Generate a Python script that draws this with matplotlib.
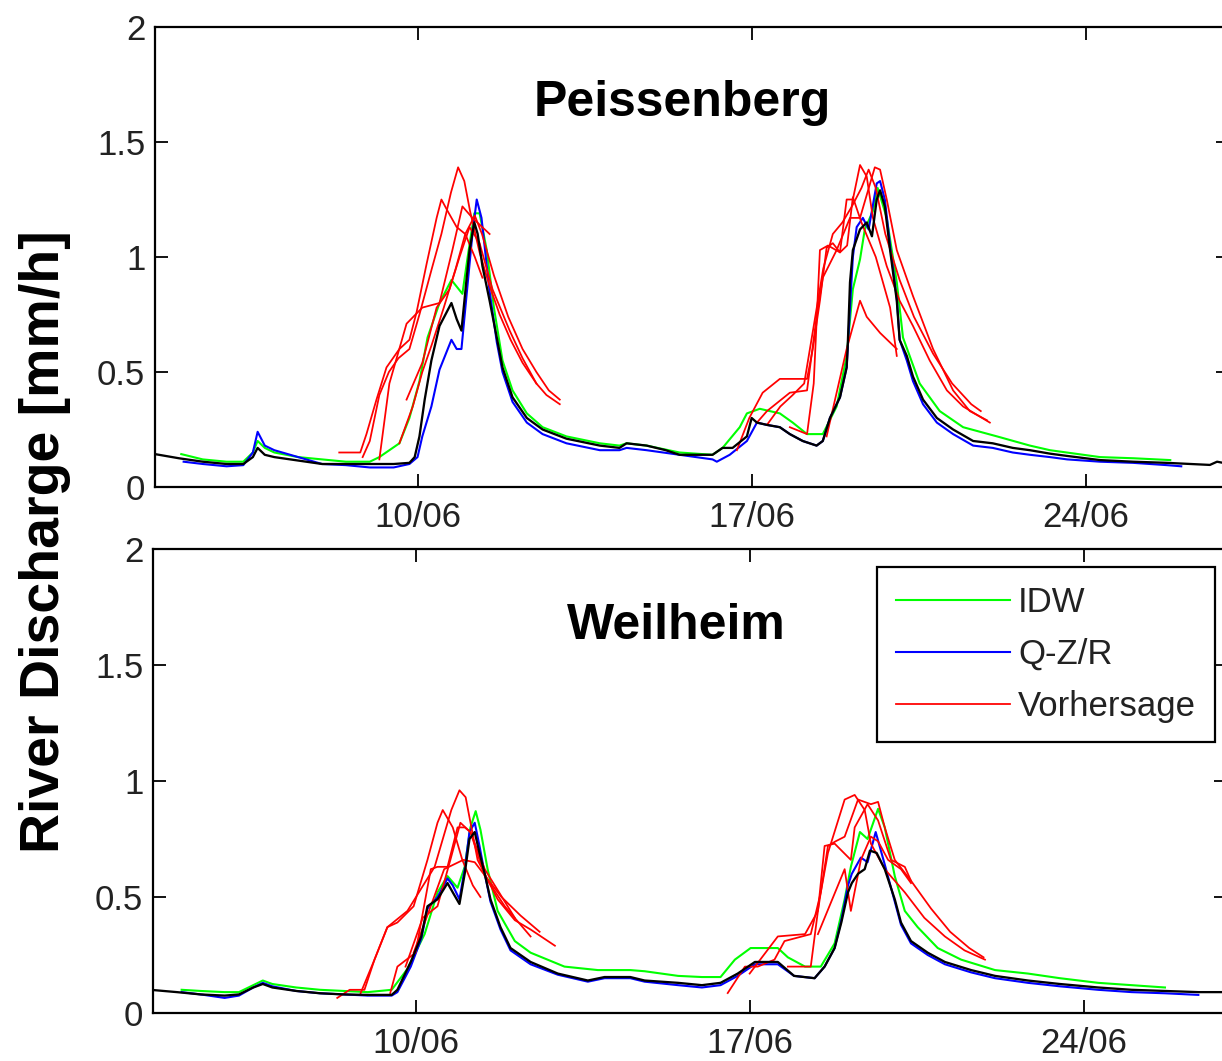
import matplotlib
matplotlib.use("Agg")
import matplotlib.pyplot as plt
import numpy as np

# ---------------- DATA (day of June, discharge mm/h) ----------------
xtick_days = [10, 17, 24]
xtick_labels = ["10/06", "17/06", "24/06"]
ytick_vals = [0, 0.5, 1, 1.5, 2]
ytick_labels = ["0", "0.5", "1", "1.5", "2"]
panel_titles = ["Peissenberg", "Weilheim"]
legend_labels = ["IDW", "Q-Z/R", "Vorhersage"]

# ---- Peissenberg (top) ----
top_obs_d = [4.5, 5.0, 5.5, 6.0, 6.35, 6.55, 6.65, 6.8, 7.0, 7.5, 8.0, 8.5, 9.0, 9.5, 9.83, 9.94, 10.04, 10.15, 10.29,
             10.46, 10.71, 10.82, 10.92, 11.03, 11.09, 11.19, 11.26, 11.36, 11.51, 11.66, 11.78, 11.99, 12.29, 12.62,
             13.12, 13.82, 14.23, 14.38, 14.80, 15.2, 15.49, 16.18, 16.39, 16.60, 16.90, 17.00, 17.11, 17.32, 17.59,
             17.80, 18.07, 18.36, 18.49, 18.64, 18.85, 18.99, 19.01, 19.06, 19.12, 19.27, 19.41, 19.52, 19.62, 19.69,
             19.79, 19.90, 20.04, 20.10, 20.25, 20.38, 20.59, 20.88, 21.22, 21.64, 22.05, 22.47, 22.83, 23.25, 23.61,
             24.30, 24.99, 25.70, 26.60, 26.75, 27.0]
top_obs_v = [0.143, 0.125, 0.11, 0.10, 0.10, 0.13, 0.17, 0.14, 0.13, 0.115, 0.10, 0.10, 0.10, 0.10, 0.105, 0.13, 0.22,
             0.38, 0.55, 0.70, 0.80, 0.73, 0.68, 0.91, 1.03, 1.15, 1.10, 0.96, 0.81, 0.65, 0.52, 0.39, 0.30, 0.25,
             0.21, 0.18, 0.17, 0.19, 0.18, 0.16, 0.14, 0.14, 0.17, 0.17, 0.22, 0.30, 0.28, 0.27, 0.26,
             0.23, 0.20, 0.18, 0.20, 0.30, 0.39, 0.52, 0.60, 0.89, 1.03, 1.12, 1.15, 1.09, 1.25, 1.29,
             1.22, 1.03, 0.81, 0.64, 0.57, 0.48, 0.38, 0.30, 0.25, 0.20, 0.19, 0.17, 0.16, 0.145, 0.135,
             0.117, 0.11, 0.105, 0.096, 0.11, 0.10]

top_qzr_d = [5.1, 5.5, 6.0, 6.35, 6.55, 6.65, 6.8, 7.0, 7.5, 8.0, 8.5, 9.0, 9.5, 9.83, 10.0, 10.10, 10.29, 10.46,
             10.71, 10.82, 10.92, 11.03, 11.15, 11.24, 11.34, 11.51, 11.66, 11.78, 11.99, 12.29, 12.62, 13.12, 13.82,
             14.23, 14.38, 14.80, 15.49, 16.18, 16.27, 16.54, 16.90, 17.11, 17.32, 17.59, 17.80, 18.07, 18.36, 18.49,
             18.64, 18.85, 18.99, 19.12, 19.20, 19.33, 19.45, 19.62, 19.69, 19.79, 19.90, 20.04, 20.10, 20.25, 20.38,
             20.59, 20.88, 21.22, 21.64, 22.05, 22.47, 22.83, 23.25, 23.61, 24.30, 24.99, 25.70, 26.0]
top_qzr_v = [0.11, 0.10, 0.09, 0.095, 0.15, 0.24, 0.18, 0.16, 0.13, 0.10, 0.095, 0.085, 0.085, 0.10, 0.13, 0.22, 0.35,
             0.51, 0.64, 0.60, 0.60, 0.84, 1.10, 1.25, 1.17, 0.85, 0.63, 0.50, 0.37, 0.28, 0.23, 0.19, 0.16,
             0.16, 0.17, 0.16, 0.14, 0.12, 0.11, 0.14, 0.20, 0.28, 0.27, 0.26, 0.23, 0.20, 0.18, 0.20,
             0.30, 0.39, 0.52, 1.00, 1.13, 1.17, 1.12, 1.32, 1.33, 1.25, 1.05, 0.82, 0.64, 0.55, 0.46,
             0.36, 0.28, 0.23, 0.18, 0.17, 0.15, 0.14, 0.13, 0.12, 0.11, 0.105, 0.095, 0.09]

top_idw_d = [5.05, 5.5, 6.0, 6.35, 6.55, 6.65, 6.8, 7.0, 7.5, 8.0, 8.5, 9.0, 9.2, 9.62, 9.83, 10.04, 10.21, 10.46,
             10.71, 10.94, 11.05, 11.19, 11.30, 11.45, 11.6, 11.78, 11.99, 12.29, 12.62, 13.12, 13.82, 14.23, 14.38,
             14.80, 15.49, 16.18, 16.39, 16.75, 16.90, 17.17, 17.59, 17.86, 18.16, 18.49, 18.78, 18.99, 19.12, 19.27,
             19.37, 19.54, 19.64, 19.83, 20.04, 20.17, 20.52, 20.94, 21.43, 22.14, 22.83, 23.25, 24.30, 25.0, 25.77]
top_idw_v = [0.143, 0.12, 0.11, 0.11, 0.15, 0.20, 0.17, 0.15, 0.13, 0.12, 0.11, 0.11, 0.13, 0.19, 0.30, 0.46, 0.65, 0.80,
             0.90, 0.84, 1.00, 1.19, 1.19, 1.03, 0.78, 0.55, 0.42, 0.32, 0.26, 0.22, 0.19, 0.18, 0.19,
             0.18, 0.15, 0.14, 0.17, 0.26, 0.32, 0.34, 0.32, 0.28, 0.23, 0.23, 0.35, 0.57, 0.86, 0.99,
             1.12, 1.20, 1.30, 1.17, 0.89, 0.65, 0.45, 0.33, 0.26, 0.22, 0.18, 0.16, 0.13, 0.125, 0.117]

top_fc_1 = [[8.36, 0.15], [8.80, 0.15], [8.93, 0.23], [9.14, 0.38], [9.35, 0.52], [9.62, 0.60], [9.83, 0.64],
            [9.98, 0.76], [10.19, 0.97], [10.40, 1.17], [10.50, 1.25], [10.63, 1.20], [10.82, 1.13], [11.0, 1.10],
            [11.2, 1.00], [11.36, 0.91]]
top_fc_2 = [[8.85, 0.13], [9.0, 0.20], [9.2, 0.40], [9.4, 0.50], [9.6, 0.56], [9.83, 0.60], [10.04, 0.75],
            [10.3, 0.95], [10.5, 1.10], [10.7, 1.28], [10.85, 1.39], [10.98, 1.33], [11.1, 1.20], [11.3, 1.02],
            [11.5, 0.88], [11.72, 0.75], [11.95, 0.64], [12.2, 0.54], [12.49, 0.45], [12.7, 0.40], [12.98, 0.36]]
top_fc_3 = [[9.20, 0.12], [9.41, 0.45], [9.77, 0.71], [10.10, 0.78], [10.46, 0.80], [10.73, 1.03], [10.94, 1.22],
            [11.15, 1.17], [11.51, 1.10]]
top_fc_4 = [[9.77, 0.38], [10.10, 0.54], [10.40, 0.78], [10.67, 0.86], [10.88, 1.00], [11.09, 1.13], [11.30, 1.06],
            [11.57, 0.86], [11.93, 0.68], [12.2, 0.56], [12.49, 0.45]]
top_fc_5 = [[9.62, 0.19], [9.9, 0.35], [10.1, 0.50], [10.3, 0.62], [10.55, 0.78], [10.8, 0.95], [11.0, 1.10],
            [11.2, 1.18], [11.35, 1.10], [11.6, 0.92], [11.9, 0.74], [12.2, 0.60], [12.49, 0.50], [12.75, 0.42],
            [12.98, 0.38]]
top_fc_6 = [[16.69, 0.16], [16.95, 0.30], [17.23, 0.41], [17.59, 0.47], [18.16, 0.47], [18.28, 0.60], [18.43, 0.81],
            [18.57, 1.04], [18.70, 1.06], [18.85, 1.02], [18.99, 1.25], [19.12, 1.25], [19.27, 1.40], [19.41, 1.35],
            [19.54, 1.17], [19.83, 0.96], [20.10, 0.81], [20.38, 0.70], [20.73, 0.55], [21.09, 0.42], [21.43, 0.35],
            [21.99, 0.28]]
top_fc_7 = [[17.11, 0.28], [17.32, 0.33], [17.80, 0.41], [18.16, 0.42], [18.36, 0.74], [18.49, 0.91], [18.78, 1.03],
            [19.06, 1.17], [19.27, 1.17], [19.58, 1.39], [19.69, 1.38], [19.83, 1.25], [20.04, 1.03], [20.38, 0.83],
            [20.80, 0.60], [21.22, 0.42], [21.57, 0.33], [21.93, 0.29]]
top_fc_8 = [[17.80, 0.26], [18.16, 0.23], [18.30, 0.45], [18.43, 1.03], [18.6, 1.05], [18.85, 1.02], [19.0, 1.05],
            [19.12, 1.26], [19.3, 1.15], [19.6, 1.00], [19.9, 0.78], [20.04, 0.57]]
top_fc_9 = [[18.57, 0.22], [18.99, 0.60], [19.27, 0.81], [19.41, 0.74], [19.69, 0.67], [20.04, 0.60]]
top_fc_10 = [[17.32, 0.27], [17.6, 0.35], [17.86, 0.40], [18.1, 0.45], [18.3, 0.70], [18.5, 0.95], [18.7, 1.10],
             [18.9, 1.15], [19.1, 1.22], [19.3, 1.30], [19.45, 1.38], [19.6, 1.30], [19.8, 1.10], [20.1, 0.90],
             [20.4, 0.74], [20.8, 0.58], [21.2, 0.45], [21.6, 0.36], [21.8, 0.33]]

# ---- Weilheim (bottom) ----
bot_obs_d = [4.5, 5.0, 5.5, 6.0, 6.3, 6.6, 6.8, 7.0, 7.5, 8.0, 8.5, 9.0, 9.5, 9.62, 9.90, 10.12, 10.25, 10.46, 10.67,
             10.78, 10.92, 11.03, 11.13, 11.24, 11.34, 11.45, 11.57, 11.78, 11.99, 12.41, 12.98, 13.61, 13.96, 14.5,
             14.80, 15.5, 16.0, 16.39, 16.75, 17.11, 17.38, 17.59, 17.93, 18.36, 18.57, 18.78, 18.92, 19.06, 19.14,
             19.27, 19.41, 19.52, 19.66, 19.83, 20.04, 20.17, 20.38, 20.73, 21.09, 21.64, 22.14, 22.83, 23.5, 24.3,
             25.0, 25.7, 26.4, 27.0]
bot_obs_v = [0.099, 0.09, 0.08, 0.075, 0.08, 0.11, 0.125, 0.11, 0.095, 0.085, 0.08, 0.078, 0.078, 0.10, 0.22, 0.33,
             0.46, 0.49, 0.56, 0.52, 0.47, 0.60, 0.75, 0.78, 0.69, 0.60, 0.49, 0.37, 0.28, 0.22, 0.17, 0.14, 0.155,
             0.155, 0.14, 0.13, 0.12, 0.13, 0.17, 0.22, 0.22, 0.22, 0.16, 0.15, 0.20, 0.28, 0.39, 0.52, 0.56,
             0.60, 0.62, 0.70, 0.69, 0.62, 0.49, 0.39, 0.31, 0.26, 0.22, 0.185, 0.16, 0.14, 0.125, 0.11,
             0.10, 0.095, 0.09, 0.09]

bot_qzr_d = [5.1, 5.5, 6.0, 6.3, 6.6, 6.8, 7.0, 7.5, 8.0, 8.5, 9.0, 9.5, 9.62, 9.90, 10.12, 10.25, 10.46, 10.67,
             10.78, 10.92, 11.03, 11.13, 11.24, 11.34, 11.45, 11.57, 11.78, 11.99, 12.41, 12.98, 13.61, 13.96, 14.5,
             14.80, 15.5, 16.0, 16.39, 16.75, 17.11, 17.38, 17.59, 17.93, 18.36, 18.57, 18.78, 18.92, 19.06, 19.14,
             19.33, 19.47, 19.64, 19.83, 20.04, 20.17, 20.38, 20.73, 21.09, 21.64, 22.14, 22.83, 23.5, 24.3,
             25.0, 25.7, 26.4]
bot_qzr_v = [0.09, 0.08, 0.065, 0.075, 0.11, 0.13, 0.115, 0.095, 0.085, 0.08, 0.075, 0.075, 0.09, 0.20, 0.32,
             0.45, 0.50, 0.58, 0.55, 0.49, 0.62, 0.78, 0.82, 0.72, 0.60, 0.48, 0.36, 0.27, 0.21, 0.165, 0.135, 0.15,
             0.15, 0.135, 0.12, 0.11, 0.12, 0.16, 0.21, 0.21, 0.21, 0.16, 0.15, 0.20, 0.28, 0.40, 0.55, 0.60,
             0.67, 0.65, 0.78, 0.64, 0.48, 0.38, 0.30, 0.25, 0.21, 0.175, 0.15, 0.13, 0.115, 0.10,
             0.09, 0.085, 0.078]

bot_idw_d = [5.1, 5.5, 6.0, 6.3, 6.6, 6.8, 7.0, 7.5, 8.0, 8.5, 9.0, 9.5, 9.83, 10.19, 10.46, 10.67, 10.88, 11.03,
             11.15, 11.26, 11.36, 11.51, 11.72, 12.08, 12.41, 13.12, 13.82, 14.5, 14.80, 15.5, 16.0, 16.39, 16.69,
             17.02, 17.59, 17.80, 18.16, 18.49, 18.78, 18.99, 19.12, 19.31, 19.47, 19.69, 19.83, 20.04, 20.25, 20.52,
             20.94, 21.43, 22.14, 22.83, 23.5, 24.3, 25.0, 25.7]
bot_idw_v = [0.10, 0.095, 0.09, 0.09, 0.12, 0.14, 0.125, 0.11, 0.10, 0.095, 0.09, 0.10, 0.19, 0.34, 0.52, 0.59, 0.54,
             0.63, 0.80, 0.87, 0.79, 0.62, 0.44, 0.31, 0.26, 0.20, 0.185, 0.185, 0.18, 0.16, 0.155, 0.155, 0.23,
             0.28, 0.28, 0.24, 0.20, 0.20, 0.30, 0.49, 0.63, 0.78, 0.75, 0.88, 0.80, 0.59, 0.44, 0.37,
             0.28, 0.23, 0.185, 0.17, 0.15, 0.13, 0.12, 0.11]

bot_fc_1 = [[8.36, 0.065], [8.62, 0.10], [8.93, 0.10], [9.14, 0.23], [9.41, 0.37], [9.62, 0.39], [9.96, 0.46],
            [10.25, 0.66], [10.46, 0.82], [10.57, 0.875], [10.78, 0.80], [10.98, 0.66], [11.2, 0.55], [11.36, 0.50]]
bot_fc_2 = [[8.85, 0.086], [9.14, 0.23], [9.41, 0.37], [9.83, 0.44], [10.40, 0.63], [10.75, 0.875], [10.92, 0.96],
            [11.05, 0.93], [11.30, 0.66], [11.72, 0.49], [12.08, 0.40], [12.41, 0.36], [12.92, 0.29]]
bot_fc_3 = [[9.47, 0.086], [9.62, 0.20], [10.0, 0.26], [10.32, 0.62], [10.46, 0.63], [10.67, 0.63], [10.88, 0.80],
            [11.03, 0.80], [11.15, 0.78], [11.45, 0.59], [11.87, 0.46], [12.41, 0.33]]
bot_fc_4 = [[9.79, 0.20], [10.15, 0.41], [10.46, 0.46], [10.73, 0.66], [10.94, 0.82], [11.15, 0.78], [11.45, 0.62],
            [12.08, 0.41]]
bot_fc_5 = [[9.96, 0.26], [10.3, 0.45], [10.6, 0.62], [11.0, 0.66], [11.24, 0.65], [11.5, 0.58], [11.8, 0.50],
            [12.2, 0.42], [12.6, 0.35]]
bot_fc_6 = [[16.54, 0.086], [16.90, 0.20], [17.17, 0.20], [17.52, 0.23], [17.73, 0.31], [18.28, 0.34], [18.49, 0.52],
            [18.64, 0.69], [18.99, 0.92], [19.20, 0.94], [19.41, 0.875], [19.54, 0.73], [19.83, 0.62], [20.25, 0.52],
            [20.66, 0.41], [21.09, 0.33], [21.5, 0.27], [21.93, 0.23]]
bot_fc_7 = [[17.0, 0.17], [17.59, 0.33], [18.16, 0.34], [18.43, 0.44], [18.64, 0.72], [18.8, 0.74], [18.99, 0.76],
            [19.27, 0.92], [19.54, 0.90], [19.69, 0.91], [19.83, 0.80], [20.04, 0.66], [20.38, 0.57], [20.8, 0.45],
            [21.2, 0.35], [21.6, 0.28], [21.9, 0.24]]
bot_fc_8 = [[17.80, 0.20], [18.28, 0.20], [18.43, 0.44], [18.57, 0.72], [18.78, 0.73], [19.12, 0.66], [19.20, 0.80],
            [19.47, 0.90], [19.69, 0.83], [19.96, 0.66], [20.25, 0.63], [20.38, 0.57]]
bot_fc_9 = [[18.43, 0.34], [18.99, 0.62], [19.12, 0.44], [19.33, 0.66], [19.54, 0.76], [19.69, 0.74], [19.90, 0.66],
            [20.17, 0.62], [20.38, 0.56]]

top_forecasts = [top_fc_1, top_fc_2, top_fc_3, top_fc_4, top_fc_5, top_fc_6, top_fc_7, top_fc_8, top_fc_9, top_fc_10]
bot_forecasts = [bot_fc_1, bot_fc_2, bot_fc_3, bot_fc_4, bot_fc_5, bot_fc_6, bot_fc_7, bot_fc_8, bot_fc_9]

# ---------------- FIGURE ----------------
W, H = 1222, 1061
fig = plt.figure(figsize=(W / 100, H / 100), dpi=100)
fig.patch.set_facecolor("white")

TICKFONT = "Liberation Sans"
TXT = "#222222"


def add_axes_px(left, top, right, bottom):
    return fig.add_axes([left / W, 1 - bottom / H, (right - left) / W, (bottom - top) / H])


ax1 = add_axes_px(155, 27, 1229, 487)
ax2 = add_axes_px(153, 549, 1227, 1013)

lw = 1.5
panels = [
    (ax1, top_obs_d, top_obs_v, top_qzr_d, top_qzr_v, top_idw_d, top_idw_v, top_forecasts, panel_titles[0], (0.491, 0.835)),
    (ax2, bot_obs_d, bot_obs_v, bot_qzr_d, bot_qzr_v, bot_idw_d, bot_idw_v, bot_forecasts, panel_titles[1], (0.487, 0.834)),
]

handles = None
for ax, od, ov, qd, qv, idd, idv, fcs, title, tpos in panels:
    h_idw, = ax.plot(idd, idv, color=(0, 1, 0), lw=lw, zorder=2)
    h_qzr, = ax.plot(qd, qv, color=(0, 0, 1), lw=lw, zorder=3)
    h_fc = None
    for fc in fcs:
        arr = np.array(fc)
        h_fc, = ax.plot(arr[:, 0], arr[:, 1], color=(1, 0, 0), lw=lw * 0.85, zorder=4)
    ax.plot(od, ov, color="black", lw=lw * 1.1, zorder=5)
    handles = [h_idw, h_qzr, h_fc]

    ax.set_xlim(4.5, 27)
    ax.set_ylim(0, 2)
    ax.set_xticks(xtick_days)
    ax.set_xticklabels(xtick_labels)
    ax.set_yticks(ytick_vals)
    ax.set_yticklabels(ytick_labels)
    ax.tick_params(direction="in", length=9.5, width=1.3, top=True, right=True,
                   labelsize=25, colors="black", labelcolor=TXT)
    ax.tick_params(axis="y", pad=7)
    ax.tick_params(axis="x", pad=10)
    for lab in ax.get_xticklabels() + ax.get_yticklabels():
        lab.set_fontfamily(TICKFONT)
    for sp in ax.spines.values():
        sp.set_linewidth(1.6)
        sp.set_color("black")
    ax.text(tpos[0], tpos[1], title, transform=ax.transAxes, ha="center", va="center",
            fontsize=36, fontweight="bold", family=TICKFONT, color="black")

leg = ax2.legend(handles, legend_labels, loc="upper right",
                 bbox_to_anchor=(1215 / W, 1 - 567 / H), bbox_transform=fig.transFigure,
                 prop={"family": TICKFONT, "size": 25}, frameon=True, fancybox=False,
                 edgecolor="black", framealpha=1, borderaxespad=0, borderpad=0.55,
                 handlelength=3.3, handletextpad=0.22, labelspacing=0.55)
leg.get_frame().set_linewidth(1.6)
for t in leg.get_texts():
    t.set_color(TXT)

fig.text(45 / W, 1 - 542 / H, "River Discharge [mm/h]", rotation=90, ha="center", va="center",
         fontsize=40, fontweight="bold", family=TICKFONT, color="black")

fig.savefig("out.png", dpi=100, facecolor="white")
